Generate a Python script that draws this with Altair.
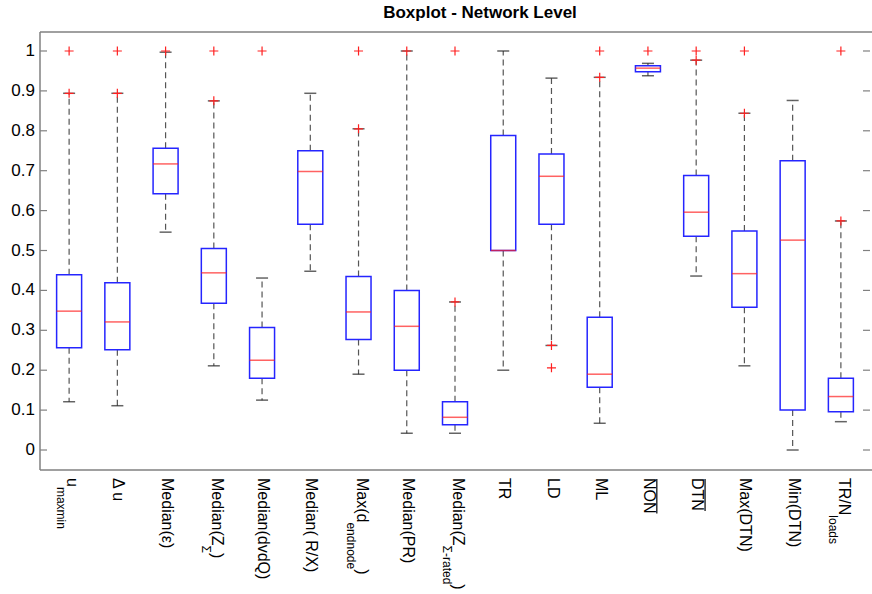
import altair as alt
import pandas as pd

TITLE = "Boxplot - Network Level"

# x-axis labels: main text, subscript, trailing text, overline flag
label_main = ["u", "Δ u", "Median(ε)", "Median(Z", "Median(dvdQ)", "Median( R/X)", "Max(d",
              "Median(PR)", "Median(Z", "TR", "LD", "ML", "NON", "DTN", "Max(DTN)", "Min(DTN)", "TR/N"]
label_sub = ["maxmin", "", "", "Σ", "", "", "endnode", "", "Σ-rated", "", "", "", "", "", "", "", "loads"]
label_tail = ["", "", "", " )", "", "", ")", "", ")", "", "", "", "", "", "", "", ""]
label_overline = [False] * 12 + [True, True] + [False] * 3

# box statistics
q1 = [0.256, 0.251, 0.642, 0.368, 0.180, 0.566, 0.277, 0.200, 0.063, 0.500, 0.566, 0.157, 0.948, 0.536, 0.358, 0.100, 0.096]
med = [0.348, 0.321, 0.717, 0.444, 0.225, 0.698, 0.346, 0.310, 0.082, 0.500, 0.686, 0.190, 0.957, 0.596, 0.442, 0.526, 0.134]
q3 = [0.439, 0.419, 0.756, 0.505, 0.307, 0.750, 0.435, 0.400, 0.121, 0.788, 0.742, 0.333, 0.963, 0.688, 0.549, 0.725, 0.180]
w_lo = [0.121, 0.111, 0.546, 0.211, 0.125, 0.448, 0.190, 0.042, 0.042, 0.200, 0.262, 0.067, 0.938, 0.436, 0.211, 0.000, 0.071]
w_hi = [0.894, 0.894, 0.997, 0.875, 0.431, 0.894, 0.805, 1.000, 0.371, 1.000, 0.932, 0.934, 0.969, 0.977, 0.844, 0.876, 0.574]

out_cat = [1, 1, 2, 2, 3, 4, 4, 5, 7, 7, 8, 9, 9, 11, 11, 12, 12, 13, 14, 14, 15, 15, 17, 17]
out_val = [1.0, 0.894, 1.0, 0.894, 1.0, 1.0, 0.875, 1.0, 1.0, 0.805, 1.0, 1.0, 0.371, 0.262, 0.206,
           1.0, 0.934, 1.0, 1.0, 0.977, 1.0, 0.844, 1.0, 0.574]

y_ticks = [0, 0.1, 0.2, 0.3, 0.4, 0.5, 0.6, 0.7, 0.8, 0.9, 1]

# ---- layout ----
W, H = 830, 438
N = len(label_main)
YMIN, YMAX = -0.0501, 1.0476
PX_X = W / N
PX_Y = H / (YMAX - YMIN)
FONT = "Liberation Sans"
MAIN_FS, SUB_FS = 16, 12

xscale = alt.Scale(domain=[0.5, N + 0.5], nice=False, zero=False)
yscale = alt.Scale(domain=[YMIN, YMAX], nice=False, zero=False)

ARIAL = {'u': 556, 'M': 833, 'e': 556, 'd': 556, 'i': 222, 'a': 556, 'n': 556, '(': 333, ')': 333,
         'Z': 611, 'x': 500, 'T': 611, 'R': 722, '/': 278, 'N': 722, 'O': 778, 'D': 722, 'm': 833,
         'o': 556, 'l': 222, 's': 500, 'r': 333, 't': 278, 'Σ': 617, '-': 333, ' ': 278}


def tw(s, fs):
    return sum(ARIAL.get(ch, 556) for ch in s) / 1000.0 * fs


def ydata(py):
    return YMAX - py / PX_Y


def xdata(c, dpx):
    return c + dpx / PX_X


idx = list(range(1, N + 1))
boxes = pd.DataFrame({"idx": idx, "q1": q1, "med": med, "q3": q3, "lo": w_lo, "hi": w_hi})
outl = pd.DataFrame({"idx": out_cat, "v": out_val})
ticks = pd.DataFrame({"v": y_ticks, "lab": [f"{v:g}" for v in y_ticks]})

lab_rows, over_rows = [], []
Y0 = H + 8
for i in range(N):
    c = i + 1
    if label_sub[i]:
        mdx, sdx = -2, -12
        lab_rows.append({"x": xdata(c, mdx), "y": ydata(Y0), "t": label_main[i], "fs": MAIN_FS})
        y1 = Y0 + tw(label_main[i], MAIN_FS)
        lab_rows.append({"x": xdata(c, sdx), "y": ydata(y1), "t": label_sub[i], "fs": SUB_FS})
        if label_tail[i]:
            y2 = y1 + tw(label_sub[i], SUB_FS)
            lab_rows.append({"x": xdata(c, mdx), "y": ydata(y2), "t": label_tail[i], "fs": MAIN_FS})
    else:
        mdx = -4
        lab_rows.append({"x": xdata(c, mdx), "y": ydata(Y0), "t": label_main[i], "fs": MAIN_FS})
    if label_overline[i]:
        over_rows.append({"x": xdata(c, mdx + 13), "y": ydata(Y0 + 1), "y2": ydata(Y0 + tw(label_main[i], MAIN_FS))})
labels = pd.DataFrame(lab_rows)
overs = pd.DataFrame(over_rows)

FRAME = "#808080"
X = alt.X("idx:Q", scale=xscale, axis=None)


def Yq(field):
    return alt.Y(field, scale=yscale, axis=None)


frame_top = alt.Chart(ticks.head(1)).mark_rule(color=FRAME, strokeWidth=1.5).encode(
    x=alt.value(0), x2=alt.value(W + 2), y=alt.value(0))
frame_bot = alt.Chart(ticks.head(1)).mark_rule(color=FRAME, strokeWidth=1.5).encode(
    x=alt.value(0), x2=alt.value(W + 2), y=alt.value(H))
frame_left = alt.Chart(ticks.head(1)).mark_rule(color=FRAME, strokeWidth=1.5).encode(
    x=alt.value(0), y=alt.value(0), y2=alt.value(H))

tick_left = alt.Chart(ticks).mark_rule(color=FRAME, strokeWidth=1.2).encode(
    y=Yq("v:Q"), x=alt.value(0), x2=alt.value(7))
tick_right = alt.Chart(ticks).mark_rule(color=FRAME, strokeWidth=1.2).encode(
    y=Yq("v:Q"), x=alt.value(W - 7), x2=alt.value(W))
tick_labels = alt.Chart(ticks).mark_text(font=FONT, fontSize=17, align="right", baseline="middle",
                                         color="black").encode(
    y=Yq("v:Q"), x=alt.value(-5), text="lab:N")

DASH = [6, 4]
wh_up = alt.Chart(boxes).mark_rule(color="#555555", strokeWidth=1.2, strokeDash=DASH).encode(
    x=X, y=Yq("q3:Q"), y2="hi:Q")
wh_dn = alt.Chart(boxes).mark_rule(color="#555555", strokeWidth=1.2, strokeDash=DASH).encode(
    x=X, y=Yq("q1:Q"), y2="lo:Q")

box = alt.Chart(boxes).mark_bar(size=25, fill="white", stroke="#2525ff", strokeWidth=1.5).encode(
    x=X, y=Yq("q1:Q"), y2="q3:Q")
median = alt.Chart(boxes).mark_tick(orient="horizontal", size=25, thickness=1.5, color="#ff2020").encode(
    x=X, y=Yq("med:Q"))
cap_lo = alt.Chart(boxes).mark_tick(orient="horizontal", size=12, thickness=1.5, color="#222222").encode(
    x=X, y=Yq("lo:Q"))
cap_hi = alt.Chart(boxes).mark_tick(orient="horizontal", size=12, thickness=1.5, color="#222222").encode(
    x=X, y=Yq("hi:Q"))

outliers = alt.Chart(outl).mark_point(shape="M -1 0 L 1 0 M 0 -1 L 0 1", filled=False, stroke="#ff2020",
                                       strokeWidth=1.2, size=81, opacity=1).encode(
    x=X, y=Yq("v:Q"))

label_layer = alt.Chart(labels).mark_text(angle=90, align="left", baseline="alphabetic", font=FONT,
                                          color="black").encode(
    x=alt.X("x:Q", scale=xscale, axis=None),
    y=Yq("y:Q"),
    text="t:N",
    size=alt.Size("fs:Q", scale=None, legend=None))

over_layer = alt.Chart(overs).mark_rule(color="black", strokeWidth=1.2).encode(
    x=alt.X("x:Q", scale=xscale, axis=None),
    y=Yq("y:Q"), y2="y2:Q")

title = alt.Chart(pd.DataFrame({"t": [TITLE]})).mark_text(
    font=FONT, fontSize=17, fontWeight="bold", align="center", baseline="alphabetic", color="black").encode(
    text="t:N", x=alt.value(440), y=alt.value(-14))

chart = alt.layer(
    frame_top, frame_bot, frame_left, tick_left, tick_right, tick_labels,
    wh_up, wh_dn, box, median, cap_lo, cap_hi, outliers,
    label_layer, over_layer, title
).properties(
    width=W, height=H,
    autosize=alt.AutoSizeParams(type="none"),
    padding={"left": 40, "top": 32, "right": 2, "bottom": 124},
    background="white"
).configure_view(stroke=None)

chart.save("out.html", embed_options={"renderer": "svg", "actions": False})
